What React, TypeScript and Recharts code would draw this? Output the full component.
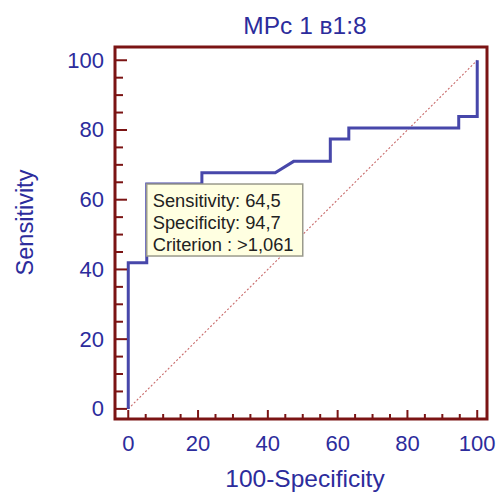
import React from "react";
import {
  LineChart,
  Line,
  XAxis,
  YAxis,
  ReferenceArea,
  ReferenceLine,
  ReferenceDot,
} from "recharts";

// ROC points: 100-Specificity vs Sensitivity
const FPR = [0, 0, 5.3, 5.3, 21.1, 21.1, 42.1, 47.4, 57.9, 57.9, 63.2, 63.2, 94.7, 94.7, 100, 100];
const TPR = [0, 41.9, 41.9, 64.5, 64.5, 67.7, 67.7, 71.0, 71.0, 77.4, 77.4, 80.6, 80.6, 83.9, 83.9, 100];

const X_TICKS = [0, 5, 10, 15, 20, 25, 30, 35, 40, 45, 50, 55, 60, 65, 70, 75, 80, 85, 90, 95, 100];
const Y_TICKS = [0, 5, 10, 15, 20, 25, 30, 35, 40, 45, 50, 55, 60, 65, 70, 75, 80, 85, 90, 95, 100];
const X_DOMAIN = [-3.8, 102.8];
const Y_DOMAIN = [-2.9, 103.8];

// optimal criterion
const CRIT_SENS = 64.5;
const CRIT_SPEC = 94.7;
const CRIT_VALUE = ">1,061";

const TITLE = "МРс 1 в1:8";

const rocData = FPR.map((x, i) => ({ x, y: TPR[i] }));

const FONT = '"Liberation Sans", Arial, sans-serif';
const BLUE = "#2c2c9c";
const MAROON = "#7b1414";

const fmt = (v: number) => v.toFixed(1).replace(".", ",");

function XTick({ x, y, payload }: any) {
  const major = payload.value % 20 === 0;
  return (
    <g>
      <line x1={x} x2={x} y1={y} y2={y - (major ? 9 : 5)} stroke={MAROON} strokeWidth={2} />
      {major && (
        <text x={x} y={y + 31.5} textAnchor="middle" fill={BLUE} fontSize={22} fontFamily={FONT}>
          {payload.value}
        </text>
      )}
    </g>
  );
}

function YTick({ x, y, payload }: any) {
  const major = payload.value % 20 === 0;
  return (
    <g>
      <line x1={x} x2={x + (major ? 12 : 8)} y1={y} y2={y} stroke={MAROON} strokeWidth={2} />
      {major && (
        <text x={x - 11} y={y + 7.5} textAnchor="end" fill={BLUE} fontSize={22} fontFamily={FONT}>
          {payload.value}
        </text>
      )}
    </g>
  );
}

function CritBox({ cx, cy }: any) {
  const lines = [
    `Sensitivity: ${fmt(CRIT_SENS)}`,
    `Specificity: ${fmt(CRIT_SPEC)}`,
    `Criterion : ${CRIT_VALUE}`,
  ];
  return (
    <g>
      <rect x={cx} y={cy} width={156} height={72} fill="#ffffe1" stroke="#9a9a8c" strokeWidth={1.5} />
      {lines.map((t, i) => (
        <text key={i} x={cx + 6} y={cy + 22.5 + i * 22} fill="#222" fontSize={18.3} fontFamily={FONT}>
          {t}
        </text>
      ))}
    </g>
  );
}

export default function App() {
  return (
    <div style={{ position: "relative", width: 496, height: 492, background: "#fff" }}>
      <style>{"body{margin:0}"}</style>
      <div
        style={{
          position: "absolute",
          left: 105,
          top: 13,
          width: 400,
          textAlign: "center",
          fontFamily: FONT,
          fontSize: 24.5,
          lineHeight: "25px",
          color: BLUE,
        }}
      >
        {TITLE}
      </div>
      <LineChart
        width={496}
        height={492}
        data={rocData}
        margin={{ top: 47, right: 9, bottom: 0, left: 0 }}
      >
        <XAxis
          type="number"
          dataKey="x"
          domain={X_DOMAIN}
          ticks={X_TICKS}
          interval={0}
          allowDataOverflow
          height={73}
          axisLine={false}
          tickLine={false}
          tickSize={0}
          tickMargin={0}
          tick={<XTick />}
          label={{
            content: ({ viewBox }: any) => (
              <text
                x={viewBox.x + viewBox.width / 2 + 4}
                y={486.5}
                textAnchor="middle"
                fill={BLUE}
                fontSize={24.5}
                fontFamily={FONT}
              >
                100-Specificity
              </text>
            ),
          }}
        />
        <YAxis
          type="number"
          domain={Y_DOMAIN}
          ticks={Y_TICKS}
          interval={0}
          allowDataOverflow
          width={115}
          axisLine={false}
          tickLine={false}
          tickSize={0}
          tickMargin={0}
          tick={<YTick />}
          label={{
            content: () => (
              <text
                x={33}
                y={222.5}
                transform="rotate(-90, 33, 222.5)"
                textAnchor="middle"
                fill={BLUE}
                fontSize={23.5}
                fontFamily={FONT}
              >
                Sensitivity
              </text>
            ),
          }}
        />
        <ReferenceArea
          x1={X_DOMAIN[0]}
          x2={X_DOMAIN[1]}
          y1={Y_DOMAIN[0]}
          y2={Y_DOMAIN[1]}
          fill="none"
          stroke={MAROON}
          strokeWidth={3}
        />
        <ReferenceLine
          segment={[
            { x: 0, y: 0 },
            { x: 100, y: 100 },
          ]}
          stroke="#c86a6a"
          strokeWidth={1.1}
          strokeDasharray="2 2"
        />
        <Line
          type="linear"
          dataKey="y"
          stroke="#4747aa"
          strokeWidth={3}
          dot={false}
          isAnimationActive={false}
        />
        <ReferenceDot
          x={100 - CRIT_SPEC}
          y={CRIT_SENS}
          r={0}
          shape={(p: any) => <CritBox cx={p.cx} cy={p.cy} />}
        />
      </LineChart>
    </div>
  );
}
